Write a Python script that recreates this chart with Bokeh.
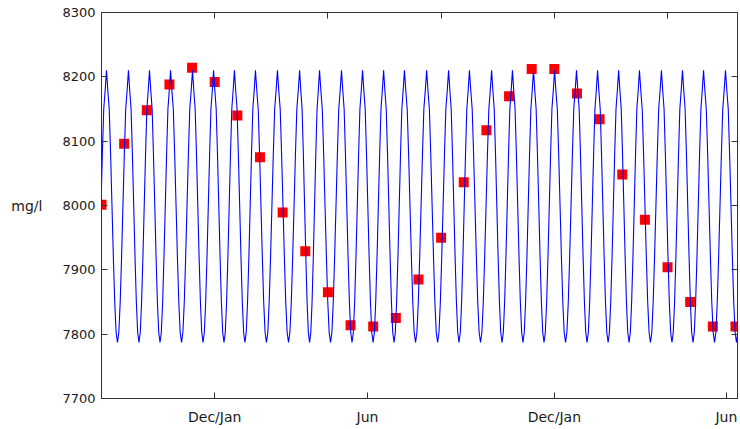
from bokeh.plotting import figure
from bokeh.models import Range1d, LinearAxis, FixedTicker
from bokeh.embed import file_html
from bokeh.resources import INLINE

# ---- data ----
# monthly samples (red squares): month index and value in mg/l
sample_month = list(range(29))
sample_value = [8001, 8096, 8148, 8188, 8214, 8192, 8140, 8075, 7989, 7929,
                7865, 7814, 7812, 7825, 7885, 7950, 8036, 8117, 8170, 8212,
                8212, 8174, 8134, 8048, 7978, 7904, 7850, 7812, 7812]

# high-frequency signal (blue line): positions of its peaks (in months)
peak_month = [0.22, 1.19, 2.12, 3.05, 4.02, 4.95, 5.87, 6.80, 7.77, 8.75,
              9.63, 10.60, 11.53, 12.46, 13.38, 14.36, 15.33, 16.25, 17.23, 18.15,
              19.08, 20.01, 20.98, 21.91, 22.84, 23.76, 24.73, 25.66, 26.59, 27.56]
# shape of one cycle: (fraction of cycle, value)
cycle_frac = [0.0, 0.0625, 0.125, 0.1875, 0.25, 0.3125, 0.375, 0.4375,
              0.5, 0.5625, 0.625, 0.6875, 0.75, 0.8125, 0.875, 0.9375]
cycle_value = [8210, 8178, 8150, 8080, 8000, 7920, 7850, 7803,
               7787, 7803, 7850, 7920, 8000, 8080, 8150, 8178]

y_ticks = [7700, 7800, 7900, 8000, 8100, 8200, 8300]
x_tick_pos = [5, 11.75, 20, 27.6]
x_tick_labels = ["Dec/Jan", "Jun", "Dec/Jan", "Jun"]
top_ticks = [5, 10, 15, 20, 25]

# build line table from the read peaks and cycle shape
anchors = [peak_month[0] - (peak_month[1] - peak_month[0])] + peak_month + \
          [peak_month[-1] + (peak_month[-1] - peak_month[-2])]
line_x, line_y = [], []
for a, b in zip(anchors[:-1], anchors[1:]):
    for f, v in zip(cycle_frac, cycle_value):
        line_x.append(a + f * (b - a))
        line_y.append(v)
line_x.append(anchors[-1])
line_y.append(cycle_value[0])

AX = "#333333"
TXT = "#1a1a1a"
FONT = "DejaVu Sans"

p = figure(width=740, height=429,
           x_range=Range1d(0, 28.09), y_range=Range1d(7700, 8300),
           output_backend="svg", toolbar_location=None,
           min_border_left=101, min_border_top=12,
           min_border_right=3, min_border_bottom=31)
p.background_fill_color = "white"
p.border_fill_color = "white"
p.outline_line_color = AX
p.grid.visible = False

p.scatter(sample_month, sample_value, marker="square", size=10,
          fill_color="#ff0000", line_color=None)
p.line(line_x, line_y, line_color="#0000ff", line_width=1.1)

# bottom axis
xa = p.xaxis[0]
xa.ticker = FixedTicker(ticks=x_tick_pos)
xa.major_label_overrides = {t: l for t, l in zip(x_tick_pos, x_tick_labels)}
xa.major_tick_in = 6
xa.major_tick_out = 0
xa.minor_tick_line_color = None
xa.axis_line_color = AX
xa.major_tick_line_color = AX
xa.major_label_standoff = 10
xa.major_label_text_font = FONT
xa.major_label_text_font_size = "14px"
xa.major_label_text_color = TXT

# left axis
ya = p.yaxis[0]
ya.ticker = FixedTicker(ticks=y_ticks)
ya.major_tick_in = 6
ya.major_tick_out = 0
ya.minor_tick_line_color = None
ya.axis_line_color = AX
ya.major_tick_line_color = AX
ya.major_label_standoff = 6
ya.major_label_text_font = FONT
ya.major_label_text_font_size = "13px"
ya.major_label_text_color = TXT
ya.axis_label = "mg/l"
ya.axis_label_orientation = "horizontal"
ya.axis_label_standoff = 17
ya.axis_label_text_font = FONT
ya.axis_label_text_font_size = "14px"
ya.axis_label_text_font_style = "normal"
ya.axis_label_text_color = TXT

# right axis: ticks only
ra = LinearAxis(ticker=FixedTicker(ticks=y_ticks), major_tick_in=6, major_tick_out=0,
                minor_tick_line_color=None, axis_line_color=AX,
                major_tick_line_color=AX, major_label_standoff=0,
                major_label_overrides={t: "" for t in y_ticks})
p.add_layout(ra, "right")

# top axis: ticks only
ta = LinearAxis(ticker=FixedTicker(ticks=top_ticks), major_tick_in=6, major_tick_out=0,
                minor_tick_line_color=None, axis_line_color=AX,
                major_tick_line_color=AX, major_label_standoff=0,
                major_label_overrides={t: "" for t in top_ticks})
p.add_layout(ta, "above")

open("out.html", "w").write(file_html(p, INLINE))
